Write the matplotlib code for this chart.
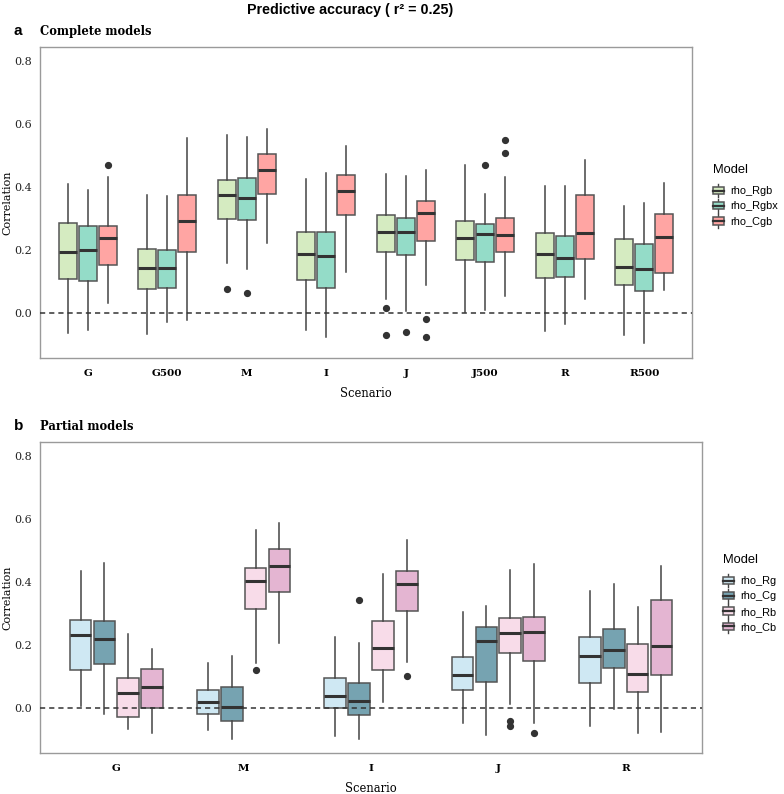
import matplotlib
matplotlib.use("Agg")
import matplotlib.pyplot as plt
from matplotlib.legend_handler import HandlerBase
from matplotlib.patches import Patch, Rectangle
from matplotlib.lines import Line2D

# ---------------- data ----------------
scen_a = ["G", "G500", "M", "I", "J", "J500", "R", "R500"]
models_a = ["rho_Rgb", "rho_Rgbx", "rho_Cgb"]
colors_a = ["#d5ebc1", "#94dcc8", "#ffa5a3"]

# [whisker low, Q1, median, Q3, whisker high] per scenario
rgb_stats = [[-0.063, 0.106, 0.194, 0.284, 0.410],
             [-0.068, 0.076, 0.142, 0.204, 0.373],
             [0.158, 0.297, 0.375, 0.422, 0.564],
             [-0.055, 0.103, 0.186, 0.255, 0.424],
             [0.045, 0.194, 0.255, 0.310, 0.439],
             [0.002, 0.167, 0.239, 0.292, 0.470],
             [-0.058, 0.112, 0.187, 0.252, 0.401],
             [-0.070, 0.087, 0.145, 0.233, 0.340]]
rgb_out = [[], [], [0.076], [], [0.014, -0.071], [], [], []]

rgbx_stats = [[-0.053, 0.100, 0.199, 0.274, 0.389],
              [-0.028, 0.078, 0.142, 0.198, 0.372],
              [0.138, 0.296, 0.365, 0.427, 0.559],
              [-0.077, 0.079, 0.179, 0.255, 0.443],
              [0.007, 0.182, 0.255, 0.302, 0.435],
              [0.008, 0.160, 0.249, 0.283, 0.377],
              [-0.034, 0.115, 0.175, 0.243, 0.401],
              [-0.097, 0.071, 0.138, 0.217, 0.350]]
rgbx_out = [[], [], [0.064], [], [-0.061], [0.468], [], []]

cgb_stats = [[0.031, 0.153, 0.236, 0.274, 0.432],
             [-0.021, 0.192, 0.292, 0.373, 0.556],
             [0.222, 0.376, 0.454, 0.503, 0.583],
             [0.129, 0.310, 0.388, 0.436, 0.529],
             [0.088, 0.227, 0.318, 0.356, 0.453],
             [0.052, 0.193, 0.247, 0.301, 0.431],
             [0.044, 0.172, 0.254, 0.375, 0.486],
             [0.072, 0.125, 0.241, 0.315, 0.412]]
cgb_out = [[0.469], [], [], [], [-0.020, -0.076], [0.549, 0.508], [], []]

scen_b = ["G", "M", "I", "J", "R"]
models_b = ["rho_Rg", "rho_Cg", "rho_Rb", "rho_Cb"]
colors_b = ["#cfe8f3", "#76a3b1", "#f8dce9", "#e4b5d2"]

rg_stats = [[0.006, 0.120, 0.231, 0.279, 0.433],
            [-0.070, -0.020, 0.020, 0.056, 0.143],
            [-0.089, 0.000, 0.038, 0.096, 0.225],
            [-0.048, 0.057, 0.105, 0.162, 0.303],
            [-0.057, 0.080, 0.164, 0.225, 0.370]]
rg_out = [[], [], [], [], []]

cg_stats = [[-0.020, 0.139, 0.219, 0.277, 0.460],
            [-0.098, -0.043, 0.003, 0.065, 0.163],
            [-0.098, -0.024, 0.022, 0.079, 0.207],
            [-0.087, 0.081, 0.213, 0.256, 0.322],
            [-0.005, 0.125, 0.185, 0.251, 0.394]]
cg_out = [[], [], [0.341], [], []]

rb_stats = [[-0.068, -0.029, 0.048, 0.094, 0.233],
            [0.143, 0.315, 0.403, 0.442, 0.565],
            [0.019, 0.120, 0.190, 0.277, 0.423],
            [0.013, 0.175, 0.238, 0.285, 0.436],
            [-0.079, 0.050, 0.107, 0.202, 0.320]]
rb_out = [[], [0.119], [], [-0.041, -0.058], []]

cb_stats = [[-0.079, 0.000, 0.066, 0.124, 0.188],
            [0.206, 0.367, 0.451, 0.504, 0.586],
            [0.146, 0.308, 0.393, 0.434, 0.531],
            [-0.048, 0.150, 0.241, 0.287, 0.456],
            [-0.076, 0.105, 0.197, 0.341, 0.449]]
cb_out = [[], [], [0.101], [-0.081], []]

yticks = [0.0, 0.2, 0.4, 0.6, 0.8]

# ---------------- styling ----------------
W, H = 784, 794
SERIF = "DejaVu Serif"
SANS = "Liberation Sans"
EDGE = "#555555"
WHISK = "#444444"
MED = "#333333"


class BoxHandler(HandlerBase):
    def create_artists(self, legend, orig_handle, xdescent, ydescent,
                       width, height, fontsize, trans):
        fc = orig_handle.get_facecolor()
        x0, y0 = -xdescent, -ydescent
        cx = x0 + width / 2
        wl = Line2D([cx, cx], [y0 - height * 0.1, y0 + height * 1.1],
                    color=WHISK, lw=1.0, transform=trans)
        rect = Rectangle((x0, y0 + height * 0.18), width, height * 0.64,
                         facecolor=fc, edgecolor=EDGE, lw=1.1, transform=trans)
        med = Line2D([x0, x0 + width], [y0 + height / 2] * 2,
                     color=MED, lw=1.6, transform=trans)
        return [wl, rect, med]


def fx(px):
    return px / W


def fy(py):
    return 1 - py / H


def draw_panel(ax, scen, stats_list, outs_list, colors, dodge, bw):
    n = len(stats_list)
    for m, (stats, outs) in enumerate(zip(stats_list, outs_list)):
        off = (m - (n - 1) / 2) * dodge
        bxs = []
        for i, s in enumerate(stats):
            bxs.append(dict(whislo=s[0], q1=s[1], med=s[2], q3=s[3],
                            whishi=s[4], fliers=outs[i]))
        pos = [i + 1 + off for i in range(len(stats))]
        ax.bxp(bxs, positions=pos, widths=bw, patch_artist=True,
               showcaps=False, manage_ticks=False,
               boxprops=dict(facecolor=colors[m], edgecolor=EDGE, lw=1.1),
               whiskerprops=dict(color=WHISK, lw=1.1),
               medianprops=dict(color=MED, lw=2.2, solid_capstyle="butt"),
               flierprops=dict(marker="o", markersize=4.2,
                               markerfacecolor=MED, markeredgecolor=MED))
    ax.axhline(0, color="#333333", lw=1.1, dashes=(3.4, 2.6), zorder=5)
    ax.set_xlim(0.4, len(scen) + 0.6)
    ax.set_ylim(-0.143, 0.843)
    ax.set_xticks(range(1, len(scen) + 1))
    ax.set_xticklabels(scen, fontfamily=SERIF, fontweight="bold", fontsize=7.5)
    ax.set_yticks(yticks)
    ax.set_yticklabels([f"{v:.1f}" for v in yticks], fontfamily=SERIF,
                       fontsize=8, color="#222222")
    ax.tick_params(axis="both", length=0)
    ax.tick_params(axis="x", pad=8)
    ax.tick_params(axis="y", pad=6)
    for sp in ax.spines.values():
        sp.set_color("#9a9a9a")
        sp.set_linewidth(1.0)
    ax.set_xlabel("Scenario", fontfamily=SERIF, fontsize=8.3, labelpad=6.5)
    return [Patch(facecolor=c, edgecolor=EDGE) for c in colors]


fig = plt.figure(figsize=(W / 100, H / 100), dpi=100)

# top panel: x 40..692, y 47..358
ax1 = fig.add_axes([fx(40), fy(358), fx(692) - fx(40), fy(47) - fy(358)])
h1 = draw_panel(ax1, scen_a, [rgb_stats, rgbx_stats, cgb_stats],
                [rgb_out, rgbx_out, cgb_out], colors_a, 0.25, 0.225)

# bottom panel: x 40..702, y 442..753
ax2 = fig.add_axes([fx(40), fy(753), fx(702) - fx(40), fy(442) - fy(753)])
h2 = draw_panel(ax2, scen_b, [rg_stats, cg_stats, rb_stats, cb_stats],
                [rg_out, cg_out, rb_out, cb_out], colors_b, 0.1875, 0.17)

# y-axis labels
for yc in ((47 + 358) / 2, (442 + 753) / 2):
    fig.text(fx(7), fy(yc), "Correlation", fontfamily=SERIF, fontsize=8,
             rotation=90, ha="center", va="center")

# legends (title drawn as text, entries as legend)
for ax, handles, labels, xl, ytitle, ytop in ((ax1, h1, models_a, 713, 170, 185),
                                              (ax2, h2, models_b, 723, 560, 575)):
    fig.text(fx(xl), fy(ytitle), "Model", fontfamily=SANS, fontsize=9.3,
             ha="left", va="center")
    ax.legend(handles, labels, loc="upper left",
              bbox_to_anchor=(fx(xl), fy(ytop)), bbox_transform=fig.transFigure,
              frameon=False, borderpad=0, borderaxespad=0,
              handler_map={Patch: BoxHandler()},
              handlelength=1.0, handleheight=1.2, handletextpad=0.55,
              labelspacing=0.35,
              prop={"family": SANS, "size": 7.9})

# titles
fig.text(fx(247), fy(10), "Predictive accuracy ( r² = 0.25)", fontfamily=SANS,
         fontweight="bold", fontsize=10.3, ha="left", va="center")
fig.text(fx(14), fy(31), "a", fontfamily=SANS, fontweight="bold", fontsize=11,
         ha="left", va="center")
fig.text(fx(40), fy(31), "Complete models", fontfamily=SERIF, fontweight="bold",
         fontsize=8.3, ha="left", va="center")
fig.text(fx(14), fy(426), "b", fontfamily=SANS, fontweight="bold", fontsize=11,
         ha="left", va="center")
fig.text(fx(40), fy(426), "Partial models", fontfamily=SERIF, fontweight="bold",
         fontsize=8.3, ha="left", va="center")

fig.savefig("out.png", dpi=100)
